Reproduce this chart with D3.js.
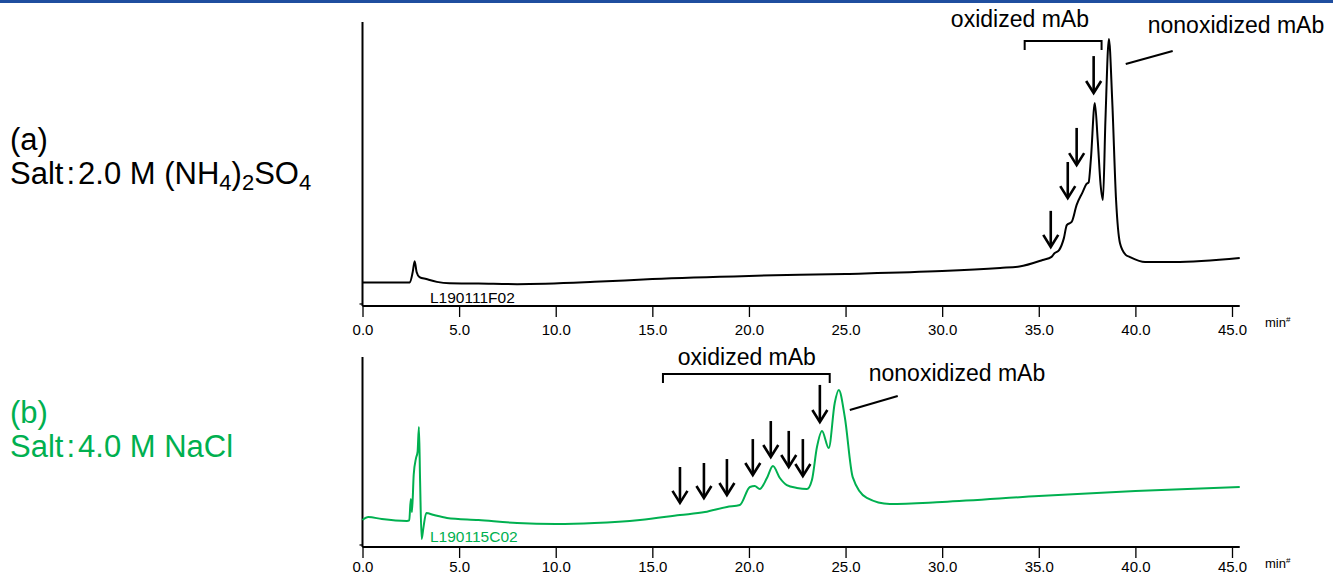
<!DOCTYPE html>
<html>
<head>
<meta charset="utf-8">
<script src="https://cdn.jsdelivr.net/npm/d3@7"></script>
<style>
  body { margin: 0; background: #fff; }
  svg { display: block; font-family: "Liberation Sans", Arial, sans-serif; }
</style>
</head>
<body>
<svg id="chart" width="1333" height="576"></svg>
<script>
// x axis ticks (min)
var tickValues = [0, 5, 10, 15, 20, 25, 30, 35, 40, 45];

// (a) 2.0 M (NH4)2SO4 trace
var timeA = [0, 2.45, 2.6, 2.7, 2.8, 2.95, 3.3, 3.85, 4.5, 6, 8, 12, 15, 20, 25, 30, 33, 34,
    35.2, 35.66, 35.8, 36.05, 36.3, 36.45, 36.7, 36.96, 37.27, 37.47, 37.58, 37.7, 37.9, 38.05,
    38.2, 38.32, 38.45, 38.63, 38.8, 39.0, 39.2, 39.5, 39.7, 40.5, 42, 45.4];
var signalA = [8.3, 8.3, 12, 15.8, 12, 10.2, 9.5, 8.5, 8.0, 7.9, 7.7, 8.5, 9.5, 10.6, 11.3, 12.3, 13.4, 13.9,
    16.2, 17.3, 18.5, 19.7, 23.9, 28.5, 29.6, 35.6, 40.1, 43.0, 43.5, 52, 71.5, 58.5,
    42.6, 37.3, 65.5, 94.0, 72.5, 37.3, 22.2, 18.0, 17.3, 15.5, 15.5, 16.9];

// (b) 4.0 M NaCl trace
var timeB = [0, 0.3, 1.0, 2.3, 2.42, 2.5, 2.56, 2.65, 2.77, 2.85, 2.92, 2.98, 3.06, 3.15, 3.3, 3.7,
    4.37, 6, 8, 10, 12, 14.36, 16.43, 17.72, 18.86, 19.53, 20.05, 20.3, 20.56, 20.93, 21.24,
    21.6, 21.96, 22.48, 23.0, 23.26, 23.52, 23.78, 24.13, 24.44, 24.65, 24.96, 25.37, 26.1,
    27.29, 30, 35, 40, 45.4];
var signalB = [14.2, 15.8, 14.7, 13.7, 14, 25.3, 18.4, 38, 46.8, 50, 63.2, 35, 4.2, 10, 17.9, 16.8,
    15.3, 14.2, 12.6, 12.1, 12.6, 14.2, 16.8, 18.4, 21.1, 22.1, 31.6, 32.1, 30.5, 36.3, 42.6,
    36.3, 32.6, 31.1, 30.5, 35.3, 52.6, 61.1, 52.1, 75.8, 82.6, 68.4, 36.8, 25.8,
    22.6, 23.7, 26.8, 29.5, 31.6];

// arrows: time, top of shaft, tip (signal units)
var arrowTimeA = [35.62, 36.5, 36.96, 37.84];
var arrowTopA = [33.5, 50.7, 62.7, 88.0];
var arrowTipA = [20.8, 38.0, 49.6, 75.0];

var arrowTimeB = [16.43, 17.67, 18.86, 20.2, 21.13, 22.06, 22.79, 23.67];
var arrowTopB = [42.1, 44.2, 46.3, 56.8, 66.3, 61.1, 56.8, 85.3];
var arrowTipB = [23.2, 25.8, 27.4, 37.9, 47.4, 42.1, 37.4, 65.8];

// brackets over the oxidized peaks: [start, end, top, leg end]
var bracketA = [34.27, 38.25, 93.3, 90.1];
var bracketB = [15.55, 24.18, 91.1, 86.3];

// pointer line to the main peak: [t0, v0, t1, v1]
var pointerA = [39.5, 85.2, 41.93, 89.8];
var pointerB = [25.22, 72.1, 27.7, 79.5];

var GREEN = "#00b050";

var svg = d3.select("#chart");

// blue rule along the top edge
svg.append("rect")
    .attr("x", 0).attr("y", 0)
    .attr("width", 1333).attr("height", 3)
    .attr("fill", "#1f4e9f");

/*
 * one chromatogram panel
 */
function drawPanel(opt) {
    var x = d3.scaleLinear().domain([0, 45]).range([362.5, 1232]);
    var y = d3.scaleLinear().domain([0, 100]).range([opt.bottom, opt.top]);
    var g = svg.append("g");

    // x axis, runs a little past 45.0
    var axis = d3.axisBottom(x)
        .tickValues(tickValues)
        .tickSize(11)
        .tickSizeOuter(0)
        .tickPadding(opt.pad)
        .tickFormat(d3.format(".1f"));

    var ax = g.append("g")
        .attr("transform", "translate(0," + opt.bottom + ")")
        .call(axis);
    ax.select(".domain").remove();
    ax.append("line")
        .attr("x1", x(0)).attr("x2", x(45.4))
        .attr("stroke", "#000").attr("stroke-width", 2);
    ax.selectAll(".tick line").attr("stroke", "#000").attr("stroke-width", 1.3);
    ax.selectAll(".tick text")
        .attr("fill", "#000")
        .style("font-size", "15px")
        .style("font-family", "Liberation Sans, Arial, sans-serif");

    // unit label
    var unit = g.append("text")
        .attr("x", x(45) + 33)
        .attr("y", opt.bottom + 21)
        .style("font-size", "13px")
        .text("min");
    unit.append("tspan")
        .attr("dy", -5)
        .style("font-size", "8px")
        .text("#");

    // y axis, plain line
    g.append("line")
        .attr("x1", x(0)).attr("x2", x(0))
        .attr("y1", y(100)).attr("y2", opt.bottom)
        .attr("stroke", "#000").attr("stroke-width", 2);
    g.append("line")
        .attr("x1", x(0) - 3).attr("x2", x(0))
        .attr("y1", opt.bottom - 2).attr("y2", opt.bottom - 2)
        .attr("stroke", "#000").attr("stroke-width", 1.3);

    // trace
    var pts = d3.zip(opt.time, opt.signal);
    var line = d3.line()
        .x(function (d) { return x(d[0]); })
        .y(function (d) { return y(d[1]); })
        .curve(d3.curveMonotoneX);

    g.append("path")
        .datum(pts)
        .attr("d", line)
        .attr("fill", "none")
        .attr("stroke", opt.color)
        .attr("stroke-width", 2)
        .attr("stroke-linejoin", "round");

    // sample id
    g.append("text")
        .attr("x", 430)
        .attr("y", opt.bottom + opt.idDy)
        .attr("fill", opt.color)
        .style("font-size", "15.5px")
        .text(opt.id);

    // arrows
    var arrows = d3.range(opt.arrowTime.length).map(function (i) {
        return { t: opt.arrowTime[i], top: opt.arrowTop[i], tip: opt.arrowTip[i] };
    });
    var ag = g.selectAll(".arrow")
        .data(arrows)
        .enter().append("g")
        .attr("class", "arrow")
        .attr("stroke", "#000")
        .attr("stroke-width", 2.6)
        .attr("fill", "none");
    ag.append("line")
        .attr("x1", function (d) { return x(d.t); })
        .attr("x2", function (d) { return x(d.t); })
        .attr("y1", function (d) { return y(d.top); })
        .attr("y2", function (d) { return y(d.tip) - 1; });
    ag.append("polyline")
        .attr("points", function (d) {
            var cx = x(d.t), ty = y(d.tip);
            return [[cx - 7.5, ty - 12], [cx, ty], [cx + 7.5, ty - 12]].join(" ");
        });

    // bracket
    var b = opt.bracket;
    g.append("path")
        .attr("d", "M" + x(b[0]) + "," + y(b[3]) + "L" + x(b[0]) + "," + y(b[2]) +
            "L" + x(b[1]) + "," + y(b[2]) + "L" + x(b[1]) + "," + y(b[3]))
        .attr("fill", "none")
        .attr("stroke", "#000")
        .attr("stroke-width", 2);

    // pointer
    var p = opt.pointer;
    g.append("line")
        .attr("x1", x(p[0])).attr("y1", y(p[1]))
        .attr("x2", x(p[2])).attr("y2", y(p[3]))
        .attr("stroke", "#000").attr("stroke-width", 2);

    // annotation text
    g.append("text")
        .attr("x", x(opt.oxLabel[0])).attr("y", y(opt.oxLabel[1]))
        .style("font-size", "23px")
        .text("oxidized mAb");
    g.append("text")
        .attr("x", x(opt.nonLabel[0])).attr("y", y(opt.nonLabel[1]))
        .style("font-size", "23px")
        .text("nonoxidized mAb");
}

drawPanel({
    top: 22, bottom: 306, color: "#000", pad: 7,
    time: timeA, signal: signalA, id: "L190111F02", idDy: -3,
    arrowTime: arrowTimeA, arrowTop: arrowTopA, arrowTip: arrowTipA,
    bracket: bracketA, pointer: pointerA,
    oxLabel: [30.45, 98.2], nonLabel: [40.64, 96.1]
});

drawPanel({
    top: 357, bottom: 547, color: GREEN, pad: 3,
    time: timeB, signal: signalB, id: "L190115C02", idDy: -5,
    arrowTime: arrowTimeB, arrowTop: arrowTopB, arrowTip: arrowTipB,
    bracket: bracketB, pointer: pointerB,
    oxLabel: [16.32, 95.8], nonLabel: [26.2, 87.4]
});

/*
 * panel captions on the left
 */
function caption(yTop, color, lines) {
    var g = svg.append("g").attr("fill", color).style("font-size", "31px");
    g.append("text").attr("x", 10).attr("y", yTop).text(lines[0]);
    var t = g.append("text").attr("x", 10).attr("y", yTop + 34);
    t.append("tspan").text("Salt");
    t.append("tspan").attr("dx", 3).text(":");
    lines[1].forEach(function (part, i) {
        var s = t.append("tspan").text(part[0]);
        if (i === 0) s.attr("dx", 3);
        if (part[1] === "sub") {
            s.attr("dy", 6).style("font-size", "22px");
        } else if (part[1] === "up") {
            s.attr("dy", -6);
        }
    });
}

caption(150, "#000", ["(a)", [
    ["2.0 M (NH"], ["4", "sub"], [")", "up"], ["2", "sub"], ["SO", "up"], ["4", "sub"]
]]);
caption(423, GREEN, ["(b)", [["4.0 M NaCl"]]]);
</script>
</body>
</html>
